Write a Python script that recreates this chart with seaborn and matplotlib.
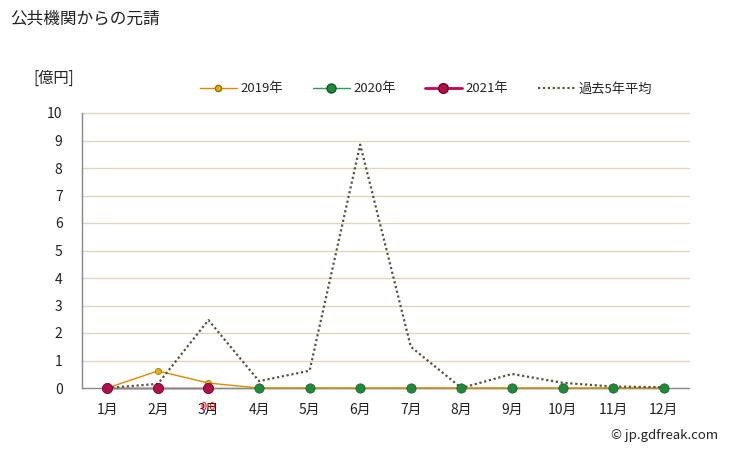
import matplotlib
matplotlib.use("Agg")
import matplotlib.pyplot as plt
from matplotlib.lines import Line2D
import seaborn as sns
import pandas as pd

months = ["1月", "2月", "3月", "4月", "5月", "6月", "7月", "8月", "9月", "10月", "11月", "12月"]
v2019 = [0, 0.62, 0.18, 0, 0, 0, 0, 0, 0, 0, 0, 0]
v2020 = [0, 0, 0, 0, 0, 0, 0, 0, 0, 0, 0, 0]
v2021 = [0, 0, 0]
avg5 = [0, 0.15, 2.47, 0.25, 0.63, 8.85, 1.5, 0, 0.51, 0.19, 0.05, 0.03]
yticks = [0, 1, 2, 3, 4, 5, 6, 7, 8, 9, 10]

sns.set_theme(style="white")
plt.rcParams['font.family'] = ['Noto Sans CJK JP', 'DejaVu Sans']

fig = plt.figure(figsize=(7.29, 4.51), dpi=100)
ax = fig.add_axes([82/729, 1-388/451, (689-82)/729, (388-113)/451])

x = list(range(12))
df_avg = pd.DataFrame({"x": x, "y": avg5})
df19 = pd.DataFrame({"x": x, "y": v2019})
df20 = pd.DataFrame({"x": x, "y": v2020})
df21 = pd.DataFrame({"x": x[:len(v2021)], "y": v2021})

for yv in yticks[1:]:
    ax.axhline(yv, color="#dcd8c0", lw=1, zorder=0)

c19, m19, e19 = "#e08a00", "#e8b000", "#9a6c00"
c20, m20, e20 = "#2e9b5a", "#1f8a3c", "#145a28"
c21, m21, e21 = "#c8005a", "#b0104a", "#700030"
cav = "#55553f"
avg_ls = (0, (1, 1.2))

# lines
sns.lineplot(data=df20, x="x", y="y", ax=ax, color=c20, lw=1, zorder=2.1, legend=False)
sns.lineplot(data=df21, x="x", y="y", ax=ax, color=c21, lw=1, zorder=2.2, legend=False)
sns.lineplot(data=df19, x="x", y="y", ax=ax, color=c19, lw=1, zorder=4, legend=False)
sns.lineplot(data=df_avg, x="x", y="y", ax=ax, color=cav, lw=1.6, linestyle=avg_ls,
             zorder=4.5, legend=False)
# markers
sns.scatterplot(data=df19, x="x", y="y", ax=ax, color=m19, edgecolor=e19, s=20,
                linewidth=0.5, zorder=5, legend=False)
sns.scatterplot(data=df20, x="x", y="y", ax=ax, color=m20, edgecolor=e20, s=45,
                linewidth=0.5, zorder=6, legend=False)
sns.scatterplot(data=df21, x="x", y="y", ax=ax, color=m21, edgecolor=e21, s=55,
                linewidth=0.5, zorder=7, legend=False)

for a in ax.lines + ax.collections:
    a.set_clip_on(False)

ax.set_xlim(-0.5, 11.5)
ax.set_ylim(0, 10)
ax.set_xticks(x)
ax.set_xticklabels(months, fontsize=10)
ax.set_yticks(yticks)
ax.set_yticklabels([str(t) for t in yticks], fontsize=10)
ax.set_xlabel("")
ax.set_ylabel("")
ax.tick_params(axis="x", length=0, pad=11, colors="#222222")
ax.tick_params(axis="y", length=0, pad=14, colors="#222222")
for s in ["top", "right"]:
    ax.spines[s].set_visible(False)
for s in ["left", "bottom"]:
    ax.spines[s].set_color("#888888")
    ax.spines[s].set_linewidth(1)
    ax.spines[s].set_zorder(3)

# small red label near March
ax.text(2, -0.68, "0.0", color="red", fontsize=8, ha="center", va="center",
        clip_on=False, zorder=8)

handles = [
    Line2D([], [], color=c19, lw=1, marker="o", markersize=4.5, markerfacecolor=m19, markeredgecolor=e19),
    Line2D([], [], color=c20, lw=1, marker="o", markersize=6.5, markerfacecolor=m20, markeredgecolor=e20),
    Line2D([], [], color=c21, lw=2, marker="o", markersize=7, markerfacecolor=m21, markeredgecolor=e21),
    Line2D([], [], color=cav, lw=1.6, linestyle=avg_ls),
]
labels = ["2019年", "2020年", "2021年", "過去5年平均"]
ax.legend(handles, labels, loc="center", bbox_to_anchor=(426/729, 1-89/451),
          bbox_transform=fig.transFigure, ncol=4, frameon=False, fontsize=9.5,
          handlelength=2.8, columnspacing=2.2, handletextpad=0.3)

fig.text(10/729, 1-19/451, "公共機関からの元請", fontsize=12, ha="left", va="center", color="#222222")
fig.text(33/729, 1-78/451, "[億円]", fontsize=11, ha="left", va="center", color="#222222")
fig.text(718/729, 1-435/451, "© jp.gdfreak.com", fontsize=9.5, ha="right", va="center", color="#222222")

fig.savefig("out.png", dpi=100)
